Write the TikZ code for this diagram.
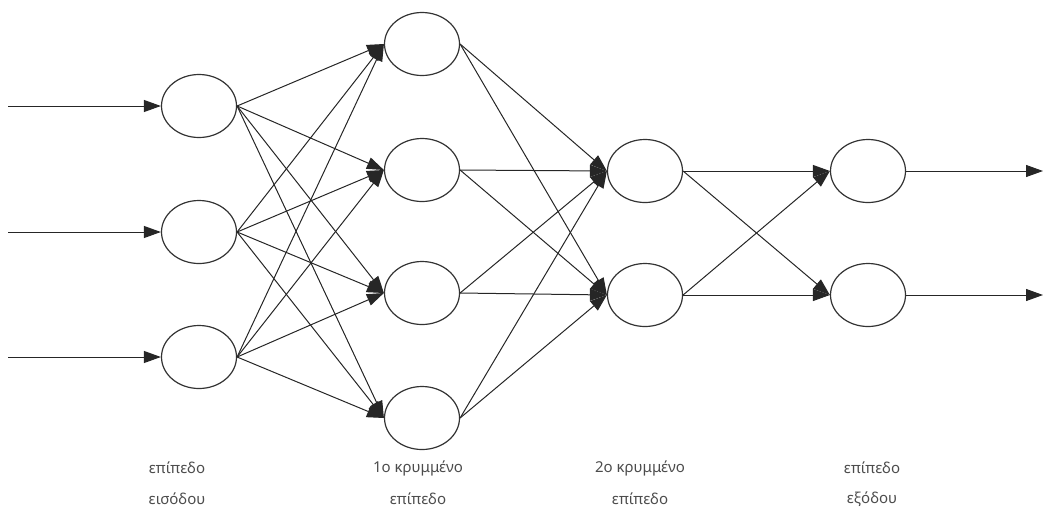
\documentclass[tikz,border=0pt]{standalone}
\usepackage{fontspec}
\setmainfont{Noto Sans}
\usetikzlibrary{arrows.meta,shapes.geometric}
\begin{document}
\begin{tikzpicture}[x=1pt,y=-1pt,
  neuron/.style={draw=black!80,line width=1.2pt,ellipse,minimum width=75pt,minimum height=63pt,inner sep=0pt},
  conn/.style={draw=black!85,line width=1pt,-{Triangle[length=17pt,width=12pt]}},
  lbl/.style={font=\fontsize{15}{17}\selectfont,text=black!70}]
\useasboundingbox (0,0) rectangle (1043,512);
\node[neuron] (i1) at (199,106) {};
\node[neuron] (i2) at (199,232) {};
\node[neuron] (i3) at (199,357) {};
\node[neuron] (h1) at (422,44) {};
\node[neuron] (h2) at (422,170) {};
\node[neuron] (h3) at (422,293) {};
\node[neuron] (h4) at (422,418) {};
\node[neuron] (g1) at (645,171) {};
\node[neuron] (g2) at (645,295) {};
\node[neuron] (o1) at (868,171) {};
\node[neuron] (o2) at (868,295) {};
\coordinate (s1) at (8,106);
\coordinate (s2) at (8,232);
\coordinate (s3) at (8,357);
\coordinate (e1) at (1043,171);
\coordinate (e2) at (1043,295);
\draw[conn] (s1) -- (i1.west);
\draw[conn] (s2) -- (i2.west);
\draw[conn] (s3) -- (i3.west);
\foreach \a in {i1,i2,i3}{\foreach \b in {h1,h2,h3,h4}{\draw[conn] (\a.east) -- (\b.west);}}
\foreach \a in {h1,h2,h3,h4}{\foreach \b in {g1,g2}{\draw[conn] (\a.east) -- (\b.west);}}
\foreach \a in {g1,g2}{\foreach \b in {o1,o2}{\draw[conn] (\a.east) -- (\b.west);}}
\draw[conn] (o1.east) -- (e1);
\draw[conn] (o2.east) -- (e2);
\node[lbl] (l1a) at (177,468) {επίπεδο};
\node[lbl] (l1b) at (177,499) {εισόδου};
\node[lbl] (l2a) at (418,468) {1ο κρυμμένο};
\node[lbl] (l2b) at (418,499) {επίπεδο};
\node[lbl] (l3a) at (640,468) {2ο κρυμμένο};
\node[lbl] (l3b) at (640,499) {επίπεδο};
\node[lbl] (l4a) at (872,468) {επίπεδο};
\node[lbl] (l4b) at (872,499) {εξόδου};
\end{tikzpicture}
\end{document}
